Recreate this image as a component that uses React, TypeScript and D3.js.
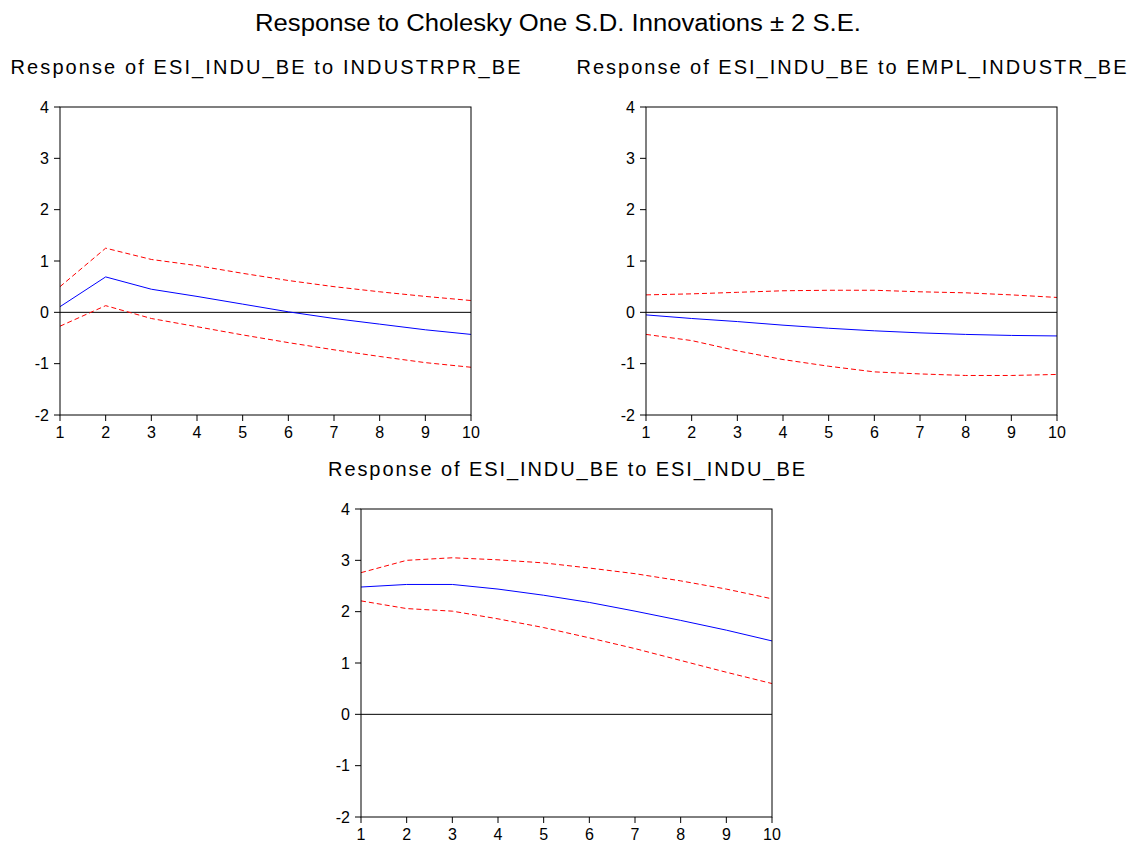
import React from "react";
import * as d3 from "d3";

// Forecast horizon (periods after the shock)
const periods: number[] = [1, 2, 3, 4, 5, 6, 7, 8, 9, 10];
const yTickValues: number[] = [-2, -1, 0, 1, 2, 3, 4];

// Response of ESI_INDU_BE to INDUSTRPR_BE
const respIndustrpr: number[] = [0.11, 0.69, 0.45, 0.31, 0.16, 0.01, -0.12, -0.23, -0.34, -0.43];
const upperIndustrpr: number[] = [0.5, 1.25, 1.03, 0.91, 0.76, 0.62, 0.5, 0.4, 0.31, 0.23];
const lowerIndustrpr: number[] = [-0.27, 0.13, -0.12, -0.28, -0.44, -0.59, -0.73, -0.86, -0.98, -1.07];

// Response of ESI_INDU_BE to EMPL_INDUSTR_BE
const respEmpl: number[] = [-0.05, -0.12, -0.18, -0.25, -0.31, -0.36, -0.4, -0.43, -0.45, -0.46];
const upperEmpl: number[] = [0.34, 0.36, 0.39, 0.42, 0.43, 0.43, 0.4, 0.38, 0.34, 0.29];
const lowerEmpl: number[] = [-0.43, -0.55, -0.75, -0.92, -1.05, -1.16, -1.2, -1.23, -1.23, -1.21];

// Response of ESI_INDU_BE to ESI_INDU_BE
const respEsi: number[] = [2.48, 2.53, 2.53, 2.44, 2.32, 2.18, 2.01, 1.83, 1.64, 1.43];
const upperEsi: number[] = [2.76, 3.0, 3.05, 3.01, 2.95, 2.85, 2.74, 2.6, 2.44, 2.25];
const lowerEsi: number[] = [2.21, 2.06, 2.01, 1.86, 1.69, 1.49, 1.28, 1.05, 0.82, 0.6];

const mainTitle = "Response to Cholesky One S.D. Innovations \u00B1 2 S.E.";

const FONT = "'Liberation Sans', Arial, Helvetica, sans-serif";

interface PanelSpec {
  title: string;
  titleWidth: number;
  resp: number[];
  upper: number[];
  lower: number[];
  left: number;
  top: number;
  width: number;
  height: number;
}

const PANEL_W = 411;
const PANEL_H = 308;

const panels: PanelSpec[] = [
  {
    title: "Response of ESI_INDU_BE to INDUSTRPR_BE",
    titleWidth: 510,
    resp: respIndustrpr,
    upper: upperIndustrpr,
    lower: lowerIndustrpr,
    left: 60,
    top: 107,
    width: PANEL_W,
    height: PANEL_H,
  },
  {
    title: "Response of ESI_INDU_BE to EMPL_INDUSTR_BE",
    titleWidth: 550,
    resp: respEmpl,
    upper: upperEmpl,
    lower: lowerEmpl,
    left: 646,
    top: 107,
    width: PANEL_W,
    height: PANEL_H,
  },
  {
    title: "Response of ESI_INDU_BE to ESI_INDU_BE",
    titleWidth: 477,
    resp: respEsi,
    upper: upperEsi,
    lower: lowerEsi,
    left: 361,
    top: 509,
    width: PANEL_W,
    height: PANEL_H,
  },
];

function Panel({ spec }: { spec: PanelSpec }) {
  const x = d3.scaleLinear().domain([1, 10]).range([0, spec.width]);
  const y = d3.scaleLinear().domain([-2, 4]).range([spec.height, 0]);
  const line = d3
    .line<number>()
    .x((_, i) => x(periods[i]))
    .y((d) => y(d));

  return (
    <g transform={`translate(${spec.left},${spec.top})`}>
      <text
        x={spec.width / 2}
        y={-33}
        textAnchor="middle"
        fontSize={20}
        fontFamily={FONT}
        textLength={spec.titleWidth}
        lengthAdjust="spacing"
        fill="#000"
      >
        {spec.title}
      </text>

      {/* zero reference line */}
      <line x1={0} x2={spec.width} y1={y(0)} y2={y(0)} stroke="#000" strokeWidth={1} />

      <path d={line(spec.upper) ?? ""} fill="none" stroke="#ff0000" strokeWidth={1} strokeDasharray="5,3" />
      <path d={line(spec.lower) ?? ""} fill="none" stroke="#ff0000" strokeWidth={1} strokeDasharray="5,3" />
      <path d={line(spec.resp) ?? ""} fill="none" stroke="#0000ff" strokeWidth={1} />

      <rect x={0} y={0} width={spec.width} height={spec.height} fill="none" stroke="#000" strokeWidth={1} />

      {yTickValues.map((t) => (
        <g key={`y${t}`} transform={`translate(0,${y(t)})`}>
          <line x1={-6} x2={0} stroke="#000" strokeWidth={1} />
          <text x={-11} dy="0.36em" textAnchor="end" fontSize={16} fontFamily={FONT} fill="#000">
            {t}
          </text>
        </g>
      ))}

      {periods.map((p) => (
        <g key={`x${p}`} transform={`translate(${x(p)},${spec.height})`}>
          <line y1={0} y2={6} stroke="#000" strokeWidth={1} />
          <text y={23} textAnchor="middle" fontSize={16} fontFamily={FONT} fill="#000">
            {p}
          </text>
        </g>
      ))}
    </g>
  );
}

export default function App() {
  return (
    <svg
      width={1138}
      height={845}
      style={{ position: "absolute", left: 0, top: 0, background: "#fff" }}
    >
      <rect width={1138} height={845} fill="#fff" />
      <text
        x={558}
        y={31}
        textAnchor="middle"
        fontSize={23}
        fontFamily={FONT}
        textLength={606}
        lengthAdjust="spacingAndGlyphs"
        fill="#000"
      >
        {mainTitle}
      </text>
      {panels.map((p) => (
        <Panel key={p.title} spec={p} />
      ))}
    </svg>
  );
}
